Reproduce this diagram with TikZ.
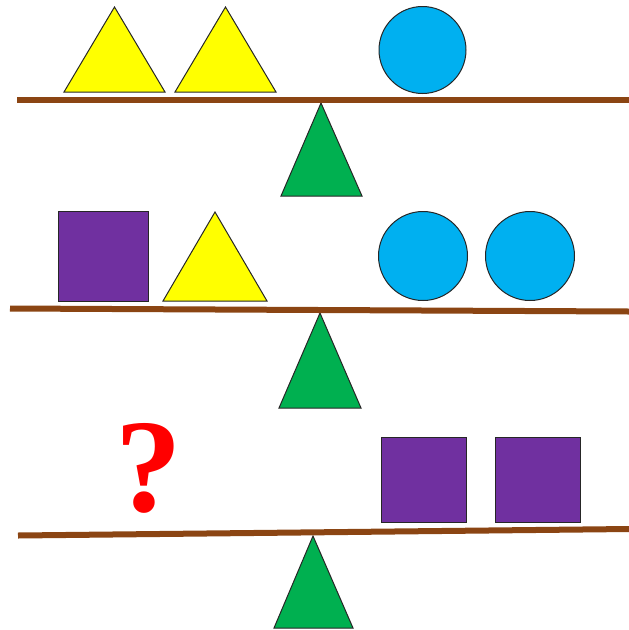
\documentclass[tikz,border=0pt]{standalone}
\usepackage{fontspec}
\newfontfamily\askfont{Liberation Serif}
\definecolor{ShYellow}{HTML}{FFFF00}
\definecolor{ShBlue}{HTML}{00B0F0}
\definecolor{ShPurple}{HTML}{7030A0}
\definecolor{ShGreen}{HTML}{00B050}
\definecolor{BeamBrown}{HTML}{8B4513}
\begin{document}
\begin{tikzpicture}[x=1pt,y=-1pt,
  outline/.style={draw=black!85,line width=1pt,line join=miter},
  tri/.style={outline,fill=ShYellow},
  ball/.style={outline,fill=ShBlue},
  box/.style={outline,fill=ShPurple},
  fulcrum/.style={outline,fill=ShGreen},
  beam/.style={draw=BeamBrown,line width=6pt}]
  \useasboundingbox (0,0) rectangle (629,630);
  % top balance
  \draw[fulcrum] (281,196)--(321,103)--(362,196)--cycle;
  \draw[beam] (17,100)--(629,100);
  \foreach \a in {0,111} \draw[tri] (64+\a,92)--(114.5+\a,7)--(165+\a,92)--cycle;
  \draw[ball] (422.5,50) circle (43.5);
  % middle balance
  \draw[fulcrum] (279,408)--(320,313)--(361,408)--cycle;
  \draw[beam] (10,308.5)--(629,311.5);
  \draw[box] (58,211) rectangle (148,301);
  \draw[tri] (163,301)--(215,212)--(267,301)--cycle;
  \foreach \c in {423,530} \draw[ball] (\c,256) circle (44.5);
  % bottom balance
  \draw[fulcrum] (274,628)--(313,536)--(353,628)--cycle;
  \draw[beam] (18,535.5)--(629,529);
  \node[text=red,inner sep=0pt,font=\askfont\bfseries\fontsize{133}{133}\selectfont] (ask) at (148.5,468) {?};
  \foreach \c in {381,495} \draw[box] (\c,437) rectangle ++(85.5,85);
\end{tikzpicture}
\end{document}
